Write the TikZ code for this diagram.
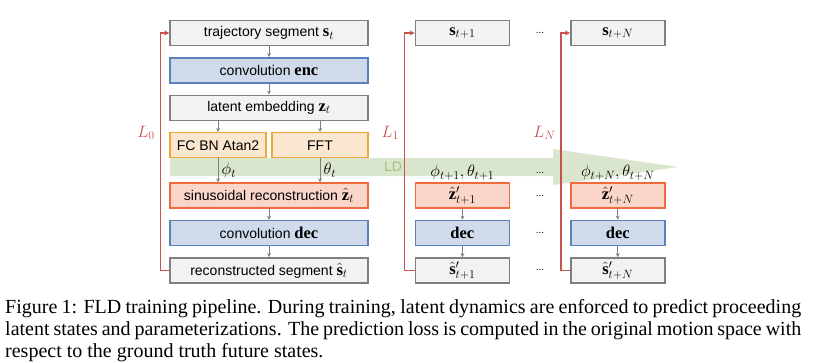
\RequirePackage{fix-cm}
\documentclass[tikz,border=0pt]{standalone}
\usepackage{fontspec}
\setmainfont{Liberation Serif}
\setsansfont{Liberation Sans}
\usepackage{tikz}
\usetikzlibrary{arrows,positioning,calc}
\DeclareMathSizes{14}{16.5}{12}{9}

\definecolor{boxgrey}{HTML}{7F7F7F}
\definecolor{fillgrey}{HTML}{F2F2F2}
\definecolor{boxblue}{HTML}{5B80BC}
\definecolor{fillblue}{HTML}{CFDAEA}
\definecolor{boxorange}{HTML}{EFA73A}
\definecolor{fillorange}{HTML}{FBE6CF}
\definecolor{boxred}{HTML}{F06A3E}
\definecolor{fillred}{HTML}{F9D5CA}
\definecolor{lossred}{HTML}{C9514F}
\definecolor{ldgreen}{HTML}{DAE5CD}
\definecolor{ldtext}{HTML}{A6C27A}
\definecolor{arrowgrey}{HTML}{7F7F7F}

\begin{document}
\begin{tikzpicture}[
    x=1pt, y=-1pt,
    font=\sffamily\fontsize{14}{16}\selectfont,
    box/.style={rectangle, draw, line width=1.4pt, minimum height=25pt, inner sep=2pt, align=center},
    greybox/.style={box, draw=boxgrey, fill=fillgrey},
    bluebox/.style={box, draw=boxblue, fill=fillblue},
    orangebox/.style={box, draw=boxorange, fill=fillorange},
    redbox/.style={box, draw=boxred, fill=fillred},
    wide/.style={minimum width=198pt},
    half/.style={minimum width=96pt},
    column/.style={minimum width=94pt},
    flow/.style={->, >=stealth, line width=0.8pt, draw=arrowgrey},
    loss/.style={->, >=stealth, line width=1.3pt, draw=lossred},
    losslbl/.style={left=4pt, text=lossred, inner sep=1pt},
    param/.style={inner sep=1pt},
    dots/.style={font=\sffamily\fontsize{10}{12}\selectfont, inner sep=0pt},
    caption/.style={anchor=north west, text width=796pt, align=justify, inner sep=0pt, font=\rmfamily\fontsize{20}{22}\selectfont}
]
\useasboundingbox (0,0) rectangle (825,362);

% --- Latent dynamics band ---
\fill[ldgreen] (170,158) -- (553,158) -- (553,149) -- (678,167) -- (553,185) -- (553,176) -- (170,176) -- cycle;
\node[text=ldtext] (ld) at (393,167) {LD};

% --- Step t ---
\node[greybox, wide] (traj) at (269,33) {trajectory segment $\mathbf{s}_t$};
\node[bluebox, wide, below=11pt of traj] (enc) {convolution $\mathbf{enc}$};
\node[greybox, wide, below=11pt of enc] (latent) {latent embedding $\mathbf{z}_t$};
\node[orangebox, half, below right=11pt and 0pt of latent.south west] (fc) {FC BN Atan2};
\node[orangebox, half, below left=11pt and 0pt of latent.south east] (fft) {FFT};
\node[redbox, wide, below right=24pt and 0pt of fc.south west] (sinus) {sinusoidal reconstruction $\hat{\mathbf{z}}_t$};
\node[bluebox, wide, below=11pt of sinus] (dec) {convolution $\mathbf{dec}$};
\node[greybox, wide, below=11pt of dec] (recon) {reconstructed segment $\hat{\mathbf{s}}_t$};

% --- Step t+1 ---
\node[greybox, column, right=46pt of traj] (s1) {$\mathbf{s}_{t+1}$};
\node[redbox, column, right=46pt of sinus] (z1) {$\hat{\mathbf{z}}'_{t+1}$};
\node[bluebox, column, right=46pt of dec] (dec1) {$\mathbf{dec}$};
\node[greybox, column, right=46pt of recon] (sh1) {$\hat{\mathbf{s}}'_{t+1}$};
\node[param, above=1pt of z1] (phi1) {$\phi_{t+1},\theta_{t+1}$};

% --- Step t+N ---
\node[greybox, column, right=60pt of s1] (sN) {$\mathbf{s}_{t+N}$};
\node[redbox, column, right=60pt of z1] (zN) {$\hat{\mathbf{z}}'_{t+N}$};
\node[bluebox, column, right=60pt of dec1] (decN) {$\mathbf{dec}$};
\node[greybox, column, right=60pt of sh1] (shN) {$\hat{\mathbf{s}}'_{t+N}$};
\node[param, above=1pt of zN] (phiN) {$\phi_{t+N},\theta_{t+N}$};

% --- Dots ---
\node[dots] (d1) at ($(s1.east)!0.5!(sN.west)$) {...};
\foreach \n/\r in {d2/phi1, d3/z1, d4/dec1, d5/sh1}
    \node[dots] (\n) at (\r -| d1) {...};

% --- Arrows ---
\foreach \a/\b in {traj/enc, enc/latent, sinus/dec, dec/recon, z1/dec1, dec1/sh1, zN/decN, decN/shN}
    \draw[flow] (\a) -- (\b);
\draw[flow] (latent.south -| fc) -- (fc);
\draw[flow] (latent.south -| fft) -- (fft);
\draw[flow] (fc) -- (fc |- sinus.north) node[midway, right] {$\phi_t$};
\draw[flow] (fft) -- (fft |- sinus.north) node[midway, right] {$\theta_t$};

% --- Losses ---
\draw[loss] (recon.west) -- ++(-9pt,0) |- node[losslbl, pos=0.29] (l0) {$L_0$} (traj.west);
\draw[loss] (sh1.west) -- ++(-10pt,0) |- node[losslbl, pos=0.29] (l1) {$L_1$} (s1.west);
\draw[loss] (shN.west) -- ++(-9pt,0) |- node[losslbl, pos=0.29] (lN) {$L_N$} (sN.west);

% --- Caption ---
\node[caption] (cap) at (5,299) {Figure 1: FLD training pipeline. During training, latent dynamics are enforced to predict proceeding\linebreak latent states and parameterizations. The prediction loss is computed in the original motion space with\linebreak respect to the ground truth future states.};

\end{tikzpicture}
\end{document}
